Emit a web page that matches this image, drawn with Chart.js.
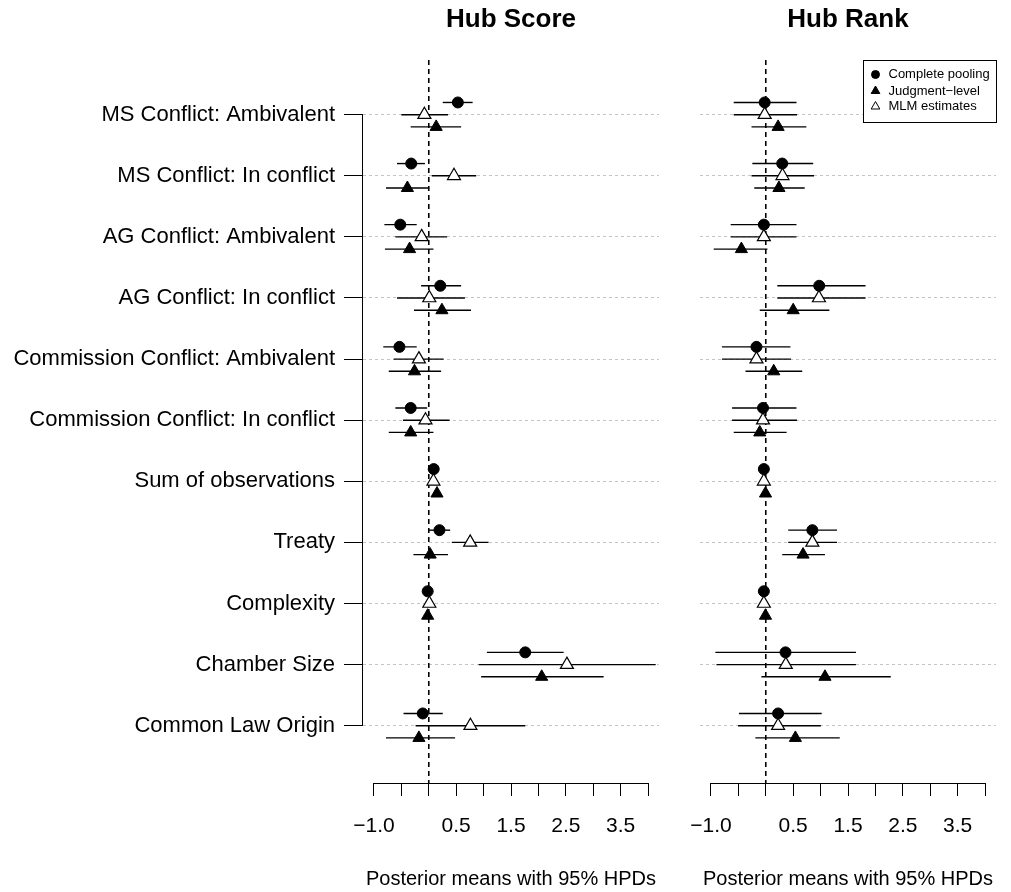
<!DOCTYPE html>
<html>
<head>
<meta charset="utf-8">
<script src="https://cdn.jsdelivr.net/npm/chart.js@4.4.1/dist/chart.umd.min.js"></script>
<style>
  body { margin: 0; background: #fff; }
  #wrap { position: relative; width: 1011px; height: 892px; }
  canvas { position: absolute; top: 0; }
  #scoreChart { left: 0; }
  #rankChart { left: 670px; }
</style>
</head>
<body>
<div id="wrap">
  <canvas id="scoreChart" width="670" height="892"></canvas>
  <canvas id="rankChart" width="341" height="892"></canvas>
</div>
<script>
const FONT = "Arial, 'Liberation Sans', Helvetica, sans-serif";

// Rows, top to bottom
const categories = [
  "MS Conflict: Ambivalent",
  "MS Conflict: In conflict",
  "AG Conflict: Ambivalent",
  "AG Conflict: In conflict",
  "Commission Conflict: Ambivalent",
  "Commission Conflict: In conflict",
  "Sum of observations",
  "Treaty",
  "Complexity",
  "Chamber Size",
  "Common Law Origin"
];

const xTickValues = [-1, -0.5, 0, 0.5, 1, 1.5, 2, 2.5, 3, 3.5, 4];
const xTickLabels = ["\u22121.0", "", "", "0.5", "", "1.5", "", "2.5", "", "3.5", ""];

// Hub Score - complete pooling
const scorePoolEst = [0.53, -0.32, -0.52, 0.21, -0.535, -0.33, 0.09, 0.195, -0.02, 1.76, -0.11];
const scorePoolLo  = [0.255, -0.58, -0.81, -0.14, -0.83, -0.61, 0.06, 0.0, -0.05, 1.06, -0.46];
const scorePoolHi  = [0.80, -0.07, -0.22, 0.59, -0.22, -0.03, 0.12, 0.39, 0.01, 2.46, 0.255];
// Hub Score - MLM estimates
const scoreMlmEst = [-0.08, 0.46, -0.13, 0.01, -0.18, -0.06, 0.085, 0.755, 0.01, 2.52, 0.76];
const scoreMlmLo  = [-0.50, 0.055, -0.61, -0.58, -0.64, -0.47, 0.05, 0.42, -0.02, 0.91, -0.24];
const scoreMlmHi  = [0.35, 0.865, 0.335, 0.66, 0.27, 0.38, 0.12, 1.09, 0.04, 4.14, 1.76];
// Hub Score - judgment-level
const scoreJudgEst = [0.135, -0.39, -0.35, 0.24, -0.26, -0.33, 0.15, 0.025, -0.02, 2.06, -0.18];
const scoreJudgLo  = [-0.33, -0.78, -0.80, -0.27, -0.73, -0.73, 0.12, -0.28, -0.05, 0.955, -0.78];
const scoreJudgHi  = [0.59, 0.0, 0.085, 0.77, 0.225, 0.085, 0.18, 0.35, 0.01, 3.19, 0.48];

// Hub Rank - complete pooling
const rankPoolEst = [-0.02, 0.30, -0.035, 0.975, -0.17, -0.05, -0.035, 0.85, -0.035, 0.36, 0.225];
const rankPoolLo  = [-0.585, -0.245, -0.64, 0.21, -0.80, -0.615, -0.06, 0.41, -0.06, -0.92, -0.49];
const rankPoolHi  = [0.56, 0.865, 0.56, 1.82, 0.45, 0.56, -0.01, 1.30, -0.01, 1.645, 1.02];
// Hub Rank - MLM estimates
const rankMlmEst = [-0.02, 0.305, -0.035, 0.97, -0.17, -0.05, -0.035, 0.85, -0.035, 0.365, 0.225];
const rankMlmLo  = [-0.585, -0.26, -0.64, 0.21, -0.80, -0.615, -0.06, 0.41, -0.06, -0.90, -0.505];
const rankMlmHi  = [0.57, 0.88, 0.56, 1.82, 0.46, 0.57, -0.01, 1.30, -0.01, 1.645, 1.005];
// Hub Rank - judgment-level
const rankJudgEst = [0.225, 0.24, -0.445, 0.50, 0.145, -0.11, -0.005, 0.68, -0.005, 1.08, 0.54];
const rankJudgLo  = [-0.26, -0.21, -0.95, -0.11, -0.37, -0.585, -0.03, 0.30, -0.03, -0.08, -0.19];
const rankJudgHi  = [0.74, 0.71, 0.03, 1.16, 0.665, 0.38, 0.02, 1.08, 0.02, 2.28, 1.35];

// vertical offsets of the three estimates within a row
const POOL_OFF = -0.2, MLM_OFF = 0, JUDG_OFF = 0.2;
const Y_MIN = -0.895, Y_MAX = 10.938;

function toPoints(est, off) {
  return est.map((v, i) => ({ x: v, y: i + off }));
}

// horizontal HPD segments, drawn under the points
function intervalPlugin(series) {
  return {
    id: 'intervals',
    beforeDatasetsDraw(chart) {
      const { ctx, scales: { x, y } } = chart;
      ctx.save();
      ctx.strokeStyle = '#000';
      ctx.lineWidth = 1.4;
      series.forEach(s => {
        s.lo.forEach((lo, i) => {
          const py = y.getPixelForValue(i + s.off);
          ctx.beginPath();
          ctx.moveTo(x.getPixelForValue(lo), py);
          ctx.lineTo(x.getPixelForValue(s.hi[i]), py);
          ctx.stroke();
        });
      });
      ctx.restore();
    }
  };
}

// axis lines (R style, first to last tick), panel title, legend
function framePlugin(title, withYAxis, withLegend) {
  return {
    id: 'frame',
    afterDraw(chart) {
      const { ctx, chartArea, scales: { x, y } } = chart;
      ctx.save();
      ctx.strokeStyle = '#000';
      ctx.lineWidth = 1;
      const ay = Math.round(chartArea.bottom) + 0.5;
      ctx.beginPath();
      ctx.moveTo(x.getPixelForValue(xTickValues[0]), ay);
      ctx.lineTo(x.getPixelForValue(xTickValues[xTickValues.length - 1]), ay);
      ctx.stroke();

      if (withYAxis) {
        const ax = Math.round(chartArea.left) - 0.5;
        ctx.beginPath();
        ctx.moveTo(ax, y.getPixelForValue(0));
        ctx.lineTo(ax, y.getPixelForValue(categories.length - 1));
        ctx.stroke();
      }

      ctx.fillStyle = '#000';
      ctx.font = 'bold 26px ' + FONT;
      ctx.textAlign = 'center';
      ctx.textBaseline = 'alphabetic';
      ctx.fillText(title, (chartArea.left + chartArea.right) / 2, 27);

      if (withLegend) {
        const w = 133, h = 62;
        const left = Math.round(chartArea.right - w) + 0.5;
        const top = Math.round(chartArea.top) + 0.5;
        ctx.fillStyle = '#fff';
        ctx.fillRect(left, top, w, h);
        ctx.strokeRect(left, top, w, h);
        const sx = left + 12;
        const items = [
          { label: 'Complete pooling', dy: 14, kind: 'circle' },
          { label: 'Judgment\u2212level', dy: 30.5, kind: 'tri' },
          { label: 'MLM estimates', dy: 46, kind: 'open' }
        ];
        items.forEach(it => {
          const cy = top + it.dy;
          ctx.beginPath();
          if (it.kind === 'circle') {
            ctx.arc(sx, cy, 4, 0, Math.PI * 2);
          } else {
            const r = 5;
            ctx.moveTo(sx, cy - r);
            ctx.lineTo(sx + r * 0.866, cy + r / 2);
            ctx.lineTo(sx - r * 0.866, cy + r / 2);
            ctx.closePath();
          }
          ctx.fillStyle = it.kind === 'open' ? '#fff' : '#000';
          ctx.fill();
          ctx.stroke();
          ctx.fillStyle = '#000';
          ctx.font = '13px ' + FONT;
          ctx.textAlign = 'left';
          ctx.textBaseline = 'middle';
          ctx.fillText(it.label, left + 25, cy);
        });
      }
      ctx.restore();
    }
  };
}

function makeChart(id, opts) {
  const datasets = [
    {
      label: 'MLM estimates',
      data: toPoints(opts.mlmEst, MLM_OFF),
      pointStyle: 'triangle',
      pointRadius: 7.5,
      backgroundColor: '#fff',
      borderColor: '#000',
      borderWidth: 1.2
    },
    {
      label: 'Complete pooling',
      data: toPoints(opts.poolEst, POOL_OFF),
      pointStyle: 'circle',
      pointRadius: 5.5,
      backgroundColor: '#000',
      borderColor: '#000',
      borderWidth: 1
    },
    {
      label: 'Judgment-level',
      data: toPoints(opts.judgEst, JUDG_OFF),
      pointStyle: 'triangle',
      pointRadius: 7,
      backgroundColor: '#000',
      borderColor: '#000',
      borderWidth: 1
    },
    {
      // reference line at zero
      label: 'zero',
      data: [{ x: 0, y: Y_MIN }, { x: 0, y: Y_MAX }],
      showLine: true,
      pointRadius: 0,
      borderColor: '#000',
      borderWidth: 1.6,
      borderDash: [5, 4]
    }
  ];

  return new Chart(document.getElementById(id), {
    type: 'scatter',
    data: { datasets },
    options: {
      responsive: false,
      animation: false,
      events: [],
      layout: { padding: { top: 60, right: opts.padRight, left: 0, bottom: 0 } },
      plugins: { legend: { display: false }, tooltip: { enabled: false } },
      scales: {
        x: {
          type: 'linear',
          min: -1.2,
          max: 4.2,
          afterBuildTicks: (scale) => { scale.ticks = xTickValues.map(v => ({ value: v })); },
          afterFit: (scale) => { scale.height = 109; },
          border: { display: false },
          grid: { drawOnChartArea: false, drawTicks: true, tickLength: 13, color: '#000', tickColor: '#000', tickWidth: 1 },
          ticks: {
            autoSkip: false,
            maxRotation: 0,
            minRotation: 0,
            padding: 18,
            color: '#000',
            font: { family: FONT, size: 21 },
            callback: (v, i) => xTickLabels[i]
          },
          title: {
            display: true,
            text: 'Posterior means with 95% HPDs',
            color: '#000',
            font: { family: FONT, size: 20 },
            padding: { top: 0, bottom: 1 }
          }
        },
        y: {
          type: 'linear',
          reverse: true,
          min: Y_MIN,
          max: Y_MAX,
          afterBuildTicks: (scale) => { scale.ticks = categories.map((c, i) => ({ value: i })); },
          afterFit: (scale) => { scale.width = opts.yWidth; },
          border: { display: false, dash: [3, 3] },
          grid: {
            color: '#c4c4c4',
            lineWidth: 1,
            drawTicks: opts.showLabels,
            tickLength: 19,
            tickColor: '#000',
            tickWidth: 1,
            tickBorderDash: []
          },
          ticks: {
            display: opts.showLabels,
            padding: 9,
            color: '#000',
            font: { family: FONT, size: 22 },
            callback: (v, i) => categories[i]
          }
        }
      }
    },
    plugins: [
      intervalPlugin([
        { lo: opts.poolLo, hi: opts.poolHi, off: POOL_OFF },
        { lo: opts.mlmLo, hi: opts.mlmHi, off: MLM_OFF },
        { lo: opts.judgLo, hi: opts.judgHi, off: JUDG_OFF }
      ]),
      framePlugin(opts.title, opts.showLabels, opts.legend)
    ]
  });
}

makeChart('scoreChart', {
  title: 'Hub Score', showLabels: true, legend: false, yWidth: 363, padRight: 11,
  poolEst: scorePoolEst, poolLo: scorePoolLo, poolHi: scorePoolHi,
  mlmEst: scoreMlmEst, mlmLo: scoreMlmLo, mlmHi: scoreMlmHi,
  judgEst: scoreJudgEst, judgLo: scoreJudgLo, judgHi: scoreJudgHi
});

makeChart('rankChart', {
  title: 'Hub Rank', showLabels: false, legend: true, yWidth: 30, padRight: 15,
  poolEst: rankPoolEst, poolLo: rankPoolLo, poolHi: rankPoolHi,
  mlmEst: rankMlmEst, mlmLo: rankMlmLo, mlmHi: rankMlmHi,
  judgEst: rankJudgEst, judgLo: rankJudgLo, judgHi: rankJudgHi
});
</script>
</body>
</html>
